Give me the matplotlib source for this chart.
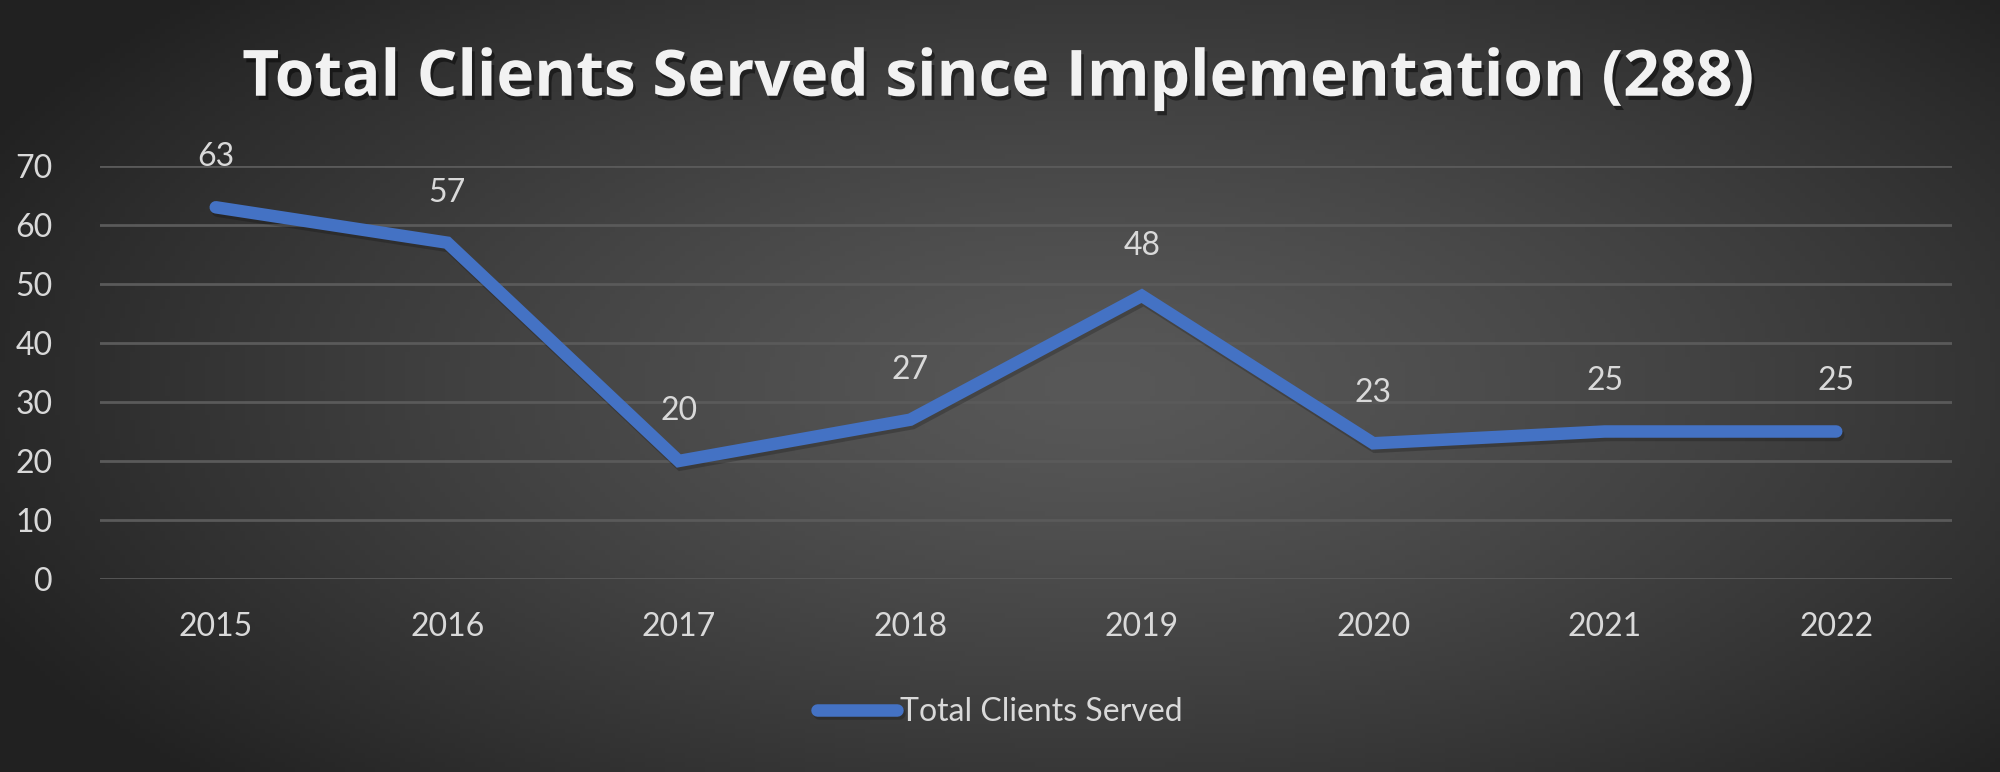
import numpy as np
import matplotlib
matplotlib.use("Agg")
import matplotlib.pyplot as plt
import matplotlib.patheffects as pe

years = ["2015", "2016", "2017", "2018", "2019", "2020", "2021", "2022"]
clients = [63, 57, 20, 27, 48, 23, 25, 25]
y_ticks = [0, 10, 20, 30, 40, 50, 60, 70]
title = "Total Clients Served since Implementation (288)"
series_name = "Total Clients Served"

plt.rcParams['font.family'] = ['Lato', 'DejaVu Sans']

fig = plt.figure(figsize=(20, 7.72), dpi=100)

# radial grey background, lighter in the middle
bg = fig.add_axes([0, 0, 1, 1], zorder=-10)
gx, gy = np.meshgrid(np.linspace(0, 1, 400), np.linspace(0, 1, 160))
r = np.sqrt(((gx - 0.55) / 0.62) ** 2 + ((gy - 0.5) / 0.75) ** 2)
r = np.clip(r, 0, 1)
shade = 0.345 - (0.345 - 0.13) * r ** 1.3
bg.imshow(np.dstack([shade, shade, shade]), extent=[0, 1, 0, 1], aspect='auto', origin='lower')
bg.axis('off')

ax = fig.add_axes([0.05, 0.25, 0.926, 0.535])
ax.patch.set_alpha(0)
x = np.arange(len(years))

line, = ax.plot(x, clients, color='#4472C4', linewidth=9, solid_capstyle='round',
                solid_joinstyle='miter', label=series_name, zorder=3,
                path_effects=[pe.SimpleLineShadow(offset=(1.5, -2.5), shadow_color='black', alpha=0.2),
                              pe.Normal()])

for xi, v in zip(x, clients):
    ax.annotate(str(v), (xi, v), xytext=(0, 36), textcoords='offset points',
                ha='center', va='center', fontsize=23, color='#d9d9d9')

ax.set_xlim(-0.5, len(years) - 0.5)
ax.set_ylim(0, 70)
ax.set_yticks(y_ticks)
ax.set_xticks(x)
ax.set_xticklabels(years)
ax.tick_params(axis='both', length=0, labelsize=23, labelcolor='#d9d9d9')
ax.tick_params(axis='y', pad=34)
ax.tick_params(axis='x', pad=24)
ax.grid(axis='y', color='#5a5a5a', linewidth=2)
ax.set_axisbelow(True)
for s in ax.spines.values():
    s.set_visible(False)

fig.text(0.499, 0.876, title, ha='center', va='baseline', fontsize=46, fontweight='bold',
         family=['Open Sans', 'DejaVu Sans'], color='#f2f2f2',
         path_effects=[pe.withSimplePatchShadow(offset=(2, -3), shadow_rgbFace='black', alpha=0.45)])

fig.legend(handles=[line], loc='center', bbox_to_anchor=(0.5, 0.078), frameon=False,
           fontsize=23, labelcolor='#d9d9d9', handlelength=2.5, handletextpad=0.1)

fig.savefig("out.png", dpi=100)
